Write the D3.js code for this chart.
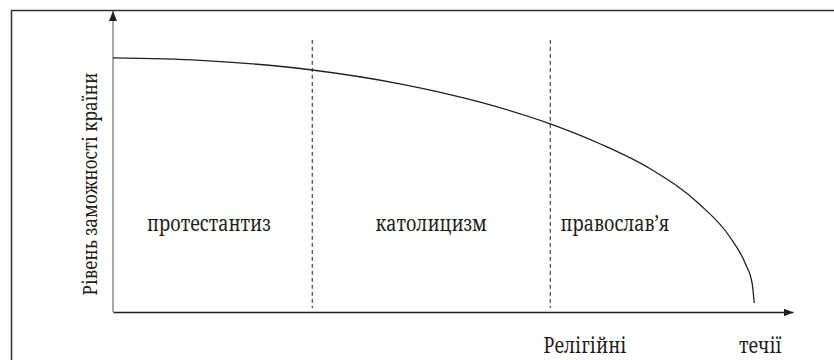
<!DOCTYPE html>
<html>
<head>
<meta charset="utf-8">
<script src="https://cdn.jsdelivr.net/npm/d3@7"></script>
</head>
<body style="margin:0">
<script>
const w = 834;
const h = 360;
const font = "'Noto Serif'";

// curve (x: position along the axis, y: wealth level)
const curveX = [0, 12.8, 29.3, 42.2, 54.0, 64.3, 71.6, 79.0, 86.3, 90.7, 93.0, 94.0, 94.3];
const curveY = [84.4, 83.6, 80.4, 75.8, 69.7, 62.5, 55.9, 47.6, 35.7, 25.0, 16.0, 9.4, 3.0];

const regions = ['протестантиз', 'католицизм', 'православ’я'];
const regionCenters = [14.1, 46.8, 73.8];
const boundaries = [29.3, 64.3];

const xTitle = ['Релігійні', 'течії'];
const xTitlePos = [69.4, 95.2];
const yTitle = 'Рівень заможності країни';

const xScale = d3.scaleLinear().domain([0, 100]).range([113, 793]);
const yScale = d3.scaleLinear().domain([0, 100]).range([312, 11]);

const svg = d3.select('body')
              .append('svg')
              .attr('width', w)
              .attr('height', h);

// frame
svg.append('rect')
   .attr('x', 11.5).attr('y', 10.5)
   .attr('width', w + 10).attr('height', h + 10)
   .attr('fill', 'none')
   .attr('stroke', '#333')
   .attr('stroke-width', 1.5);

const defs = svg.append('defs');
defs.append('marker')
    .attr('id', 'arrow')
    .attr('viewBox', '0 0 10 8')
    .attr('refX', 10).attr('refY', 4)
    .attr('markerWidth', 10).attr('markerHeight', 8)
    .attr('markerUnits', 'userSpaceOnUse')
    .attr('orient', 'auto')
    .append('path')
    .attr('d', 'M0,0 L10,4 L0,8 Z')
    .attr('fill', '#231f20');

// axes
const xAxis = d3.axisBottom(xScale).ticks(0).tickSizeOuter(0);
const yAxis = d3.axisLeft(yScale).ticks(0).tickSizeOuter(0);

svg.append('g')
   .attr('id', 'x-axis')
   .attr('transform', 'translate(0,' + yScale(0) + ')')
   .call(xAxis)
   .select('.domain')
   .attr('stroke', '#231f20')
   .attr('stroke-width', 1.6)
   .attr('marker-end', 'url(#arrow)');

svg.append('g')
   .attr('id', 'y-axis')
   .attr('transform', 'translate(' + xScale(0) + ',0)')
   .call(yAxis)
   .select('.domain')
   .attr('d', 'M0,' + yScale(0) + 'V' + yScale(100))
   .attr('stroke', '#555')
   .attr('stroke-width', 1)
   .attr('marker-end', 'url(#arrow)');

// dashed separators
svg.selectAll('line.sep')
   .data(boundaries)
   .enter()
   .append('line')
   .attr('class', 'sep')
   .attr('x1', d => xScale(d)).attr('x2', d => xScale(d))
   .attr('y1', yScale(90.4)).attr('y2', yScale(1.3))
   .attr('stroke', '#231f20')
   .attr('stroke-width', 1)
   .attr('stroke-dasharray', '4,3');

// curve
const pts = curveX.map((x, i) => [x, curveY[i]]);
const line = d3.line()
               .x(d => xScale(d[0]))
               .y(d => yScale(d[1]))
               .curve(d3.curveMonotoneX);

svg.append('path')
   .datum(pts)
   .attr('d', line)
   .attr('fill', 'none')
   .attr('stroke', '#231f20')
   .attr('stroke-width', 1.3);

// labels: glyphs in the source are a little taller than wide
const labels = svg.append('g')
                  .attr('fill', '#231f20');

labels.selectAll('text.region')
   .data(regions)
   .enter()
   .append('text')
   .attr('class', 'region')
   .attr('transform', (d, i) => 'translate(' + xScale(regionCenters[i]) + ',231) scale(1,1.25)')
   .attr('text-anchor', 'middle')
   .style('font-family', font)
   .style('font-size', '18px')
   .text(d => d);

labels.selectAll('text.xtitle')
   .data(xTitle)
   .enter()
   .append('text')
   .attr('class', 'xtitle')
   .attr('transform', (d, i) => 'translate(' + xScale(xTitlePos[i]) + ',353) scale(1,1.25)')
   .attr('text-anchor', 'middle')
   .style('font-family', font)
   .style('font-size', '18px')
   .text(d => d);

labels.append('text')
   .text(yTitle)
   .attr('transform', 'translate(97,184) rotate(-90) scale(1,1.2)')
   .attr('text-anchor', 'middle')
   .style('font-family', font)
   .style('font-size', '17px');
</script>
</body>
</html>
